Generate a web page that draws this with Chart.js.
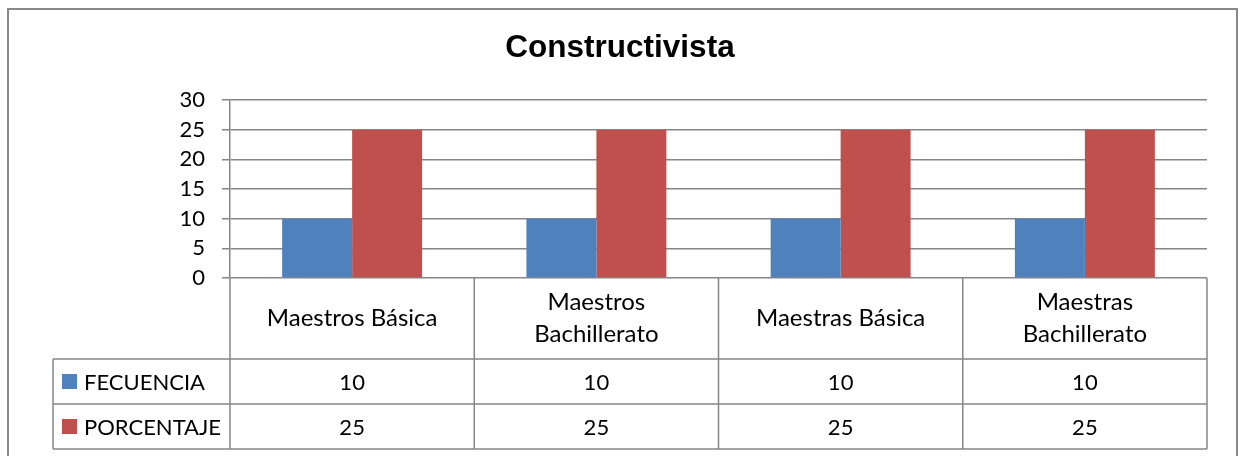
<!DOCTYPE html>
<html>
<head>
<meta charset="utf-8">
<script src="https://cdn.jsdelivr.net/npm/chart.js@4"></script>
<style>
  html, body { margin: 0; padding: 0; background: #fff; }
  #wrap { width: 1240px; height: 456px; }
</style>
</head>
<body>
<div id="wrap"><canvas id="chart" width="1240" height="456"></canvas></div>
<script>
const categories = ['Maestros Básica', ['Maestros', 'Bachillerato'], 'Maestras Básica', ['Maestras', 'Bachillerato']];
const seriesNames = ['FECUENCIA', 'PORCENTAJE'];
const frecuencia = [10, 10, 10, 10];
const porcentaje = [25, 25, 25, 25];
const yTicks = [0, 5, 10, 15, 20, 25, 30];

const BLUE = '#4F81BD';
const RED = '#C0504D';
const GRID = '#868686';
const FONT = 'Lato, "Open Sans", sans-serif';

// draws the frame and the data table under the plot
const dataTable = {
  id: 'dataTable',
  beforeDraw(chart) {
    const ctx = chart.ctx;
    ctx.save();
    ctx.fillStyle = '#fff';
    ctx.fillRect(0, 0, chart.width, chart.height);
    ctx.restore();
  },
  afterDraw(chart) {
    const ctx = chart.ctx;
    const area = chart.chartArea;
    const n = categories.length;
    const colW = (area.right - area.left) / n;
    const tableLeft = 53;
    const yHead = area.bottom;
    const yRow1 = yHead + 81;
    const yRow2 = yRow1 + 45;
    const yEnd = yRow2 + 45;

    ctx.save();
    ctx.strokeStyle = GRID;
    ctx.lineWidth = 1.5;
    ctx.beginPath();
    // vertical lines
    for (let i = 0; i <= n; i++) {
      const x = area.left + i * colW;
      ctx.moveTo(x, yHead);
      ctx.lineTo(x, yEnd);
    }
    ctx.moveTo(tableLeft, yRow1);
    ctx.lineTo(tableLeft, yEnd);
    // horizontal lines
    [yRow1, yRow2, yEnd].forEach(y => {
      ctx.moveTo(tableLeft, y);
      ctx.lineTo(area.right, y);
    });
    ctx.stroke();

    ctx.fillStyle = '#000';
    ctx.font = '24px ' + FONT;
    ctx.textAlign = 'center';
    ctx.textBaseline = 'middle';

    const headMid = (yHead + yRow1) / 2;
    categories.forEach((label, i) => {
      const cx = area.left + (i + 0.5) * colW;
      const lines = Array.isArray(label) ? label : [label];
      const lh = 32;
      lines.forEach((line, j) => {
        ctx.fillText(line, cx, headMid + (j - (lines.length - 1) / 2) * lh);
      });
    });

    ctx.font = '22px ' + FONT;
    const rows = [
      { name: seriesNames[0], values: frecuencia, color: BLUE, mid: (yRow1 + yRow2) / 2 },
      { name: seriesNames[1], values: porcentaje, color: RED, mid: (yRow2 + yEnd) / 2 }
    ];
    rows.forEach(r => {
      ctx.fillStyle = r.color;
      ctx.fillRect(62, r.mid - 7.5, 15, 15);
      ctx.fillStyle = '#000';
      ctx.textAlign = 'left';
      ctx.fillText(r.name, 84, r.mid + 1);
      ctx.textAlign = 'center';
      r.values.forEach((v, i) => {
        ctx.fillText(String(v), area.left + (i + 0.5) * colW, r.mid + 1);
      });
    });

    // outer chart frame
    ctx.strokeStyle = '#898989';
    ctx.lineWidth = 2;
    ctx.strokeRect(8, 9, 1229, 470);
    ctx.restore();
  }
};

new Chart(document.getElementById('chart'), {
  type: 'bar',
  data: {
    labels: categories,
    datasets: [
      { label: seriesNames[0], data: frecuencia, backgroundColor: BLUE },
      { label: seriesNames[1], data: porcentaje, backgroundColor: RED }
    ]
  },
  options: {
    responsive: false,
    animation: false,
    categoryPercentage: 0.573,
    barPercentage: 1,
    layout: { padding: { left: 33, right: 33, top: 0, bottom: 178 } },
    plugins: {
      legend: { display: false },
      tooltip: { enabled: false },
      title: {
        display: true,
        text: 'Constructivista',
        color: '#000',
        font: { family: '"Liberation Sans", Arial, sans-serif', size: 31.5, weight: 'bold' },
        padding: { top: 29.6, bottom: 32.6 }
      }
    },
    scales: {
      x: { display: false },
      y: {
        min: yTicks[0],
        max: yTicks[yTicks.length - 1],
        afterFit(scale) { scale.width = 197; },
        afterBuildTicks(scale) { scale.ticks = yTicks.map(v => ({ value: v })); },
        ticks: { color: '#000', font: { family: FONT, size: 22 }, padding: 17 },
        grid: { color: GRID, lineWidth: 1.5, tickLength: 8 },
        border: { color: GRID, width: 1.5 }
      }
    }
  },
  plugins: [dataTable]
});
</script>
</body>
</html>
